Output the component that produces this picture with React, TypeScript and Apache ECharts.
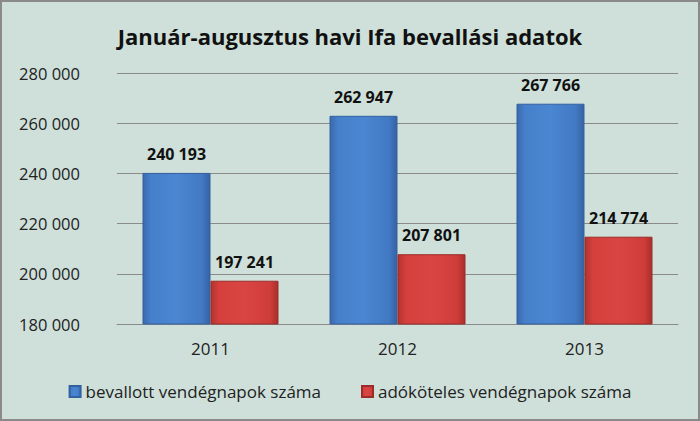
import React, { useEffect, useRef } from "react";
import * as echarts from "echarts";

const categories = ["2011", "2012", "2013"];
const bevallott = [240193, 262947, 267766];
const adokoteles = [197241, 207801, 214774];
const seriesNames = ["bevallott vendégnapok száma", "adóköteles vendégnapok száma"];
const titleText = "Január-augusztus havi Ifa bevallási adatok";

const fmt = (v: number) => {
  const s = String(Math.round(v));
  return s.replace(/\B(?=(\d{3})+(?!\d))/g, " ");
};

const FONT = "'Open Sans', 'Noto Sans', sans-serif";

export default function App() {
  const ref = useRef<HTMLDivElement>(null);
  useEffect(() => {
    document.body.style.margin = "0";
    const chart = echarts.init(ref.current!, undefined, { renderer: "svg" });
    const blue = new echarts.graphic.LinearGradient(0, 0, 1, 0, [
      { offset: 0, color: "#3a69ad" },
      { offset: 0.12, color: "#4680cb" },
      { offset: 0.5, color: "#4a86d2" },
      { offset: 0.88, color: "#4279c3" },
      { offset: 1, color: "#3562a3" },
    ]);
    const red = new echarts.graphic.LinearGradient(0, 0, 1, 0, [
      { offset: 0, color: "#b23430" },
      { offset: 0.12, color: "#d5403c" },
      { offset: 0.5, color: "#d94542" },
      { offset: 0.88, color: "#cf3d3a" },
      { offset: 1, color: "#a82f2c" },
    ]);
    const labelStyle = {
      show: true,
      position: "top" as const,
      distance: 11,
      fontFamily: FONT,
      fontWeight: "bold" as const,
      fontSize: 16,
      color: "#111",
      formatter: (p: any) => fmt(p.value),
    };
    chart.setOption({
      animation: false,
      backgroundColor: "#cee0d9",
      title: {
        text: titleText,
        left: "center",
        top: 20,
        textStyle: { fontFamily: FONT, fontWeight: "bold", fontSize: 22, color: "#111" },
      },
      grid: { left: 117, right: 22, top: 73, bottom: 97 },
      legend: {
        bottom: 16,
        left: "center",
        itemWidth: 11,
        itemHeight: 11,
        itemGap: 40,
        icon: "rect",
        textStyle: { fontFamily: FONT, fontSize: 17, color: "#222" },
        data: seriesNames,
      },
      xAxis: {
        type: "category",
        data: categories,
        axisTick: { show: false },
        axisLine: { lineStyle: { color: "#8a8a8a", width: 1 } },
        axisLabel: { fontFamily: FONT, fontSize: 17, color: "#222", margin: 16 },
      },
      yAxis: {
        type: "value",
        min: 180000,
        max: 280000,
        interval: 20000,
        axisLine: { show: false },
        axisTick: { show: false },
        splitLine: { lineStyle: { color: "#8a8a8a", width: 1 } },
        axisLabel: {
          fontFamily: FONT,
          fontSize: 16.5,
          color: "#222",
          margin: 37,
          formatter: (v: number) => fmt(v),
        },
      },
      series: [
        {
          name: seriesNames[0],
          type: "bar",
          data: bevallott,
          barWidth: 68,
          barGap: "0%",
          itemStyle: { color: blue, borderColor: "#33609f", borderWidth: 1 },
          label: labelStyle,
        },
        {
          name: seriesNames[1],
          type: "bar",
          data: adokoteles,
          barWidth: 68,
          barGap: "0%",
          itemStyle: { color: red, borderColor: "#9c2c29", borderWidth: 1 },
          label: labelStyle,
        },
      ],
      graphic: [
        {
          type: "rect",
          silent: true,
          shape: { x: 1, y: 1, width: 698, height: 419 },
          style: { fill: "none", stroke: "#8a8a8a", lineWidth: 2 },
        },
      ],
    });
    return () => chart.dispose();
  }, []);
  return <div ref={ref} style={{ width: 700, height: 421 }} />;
}
